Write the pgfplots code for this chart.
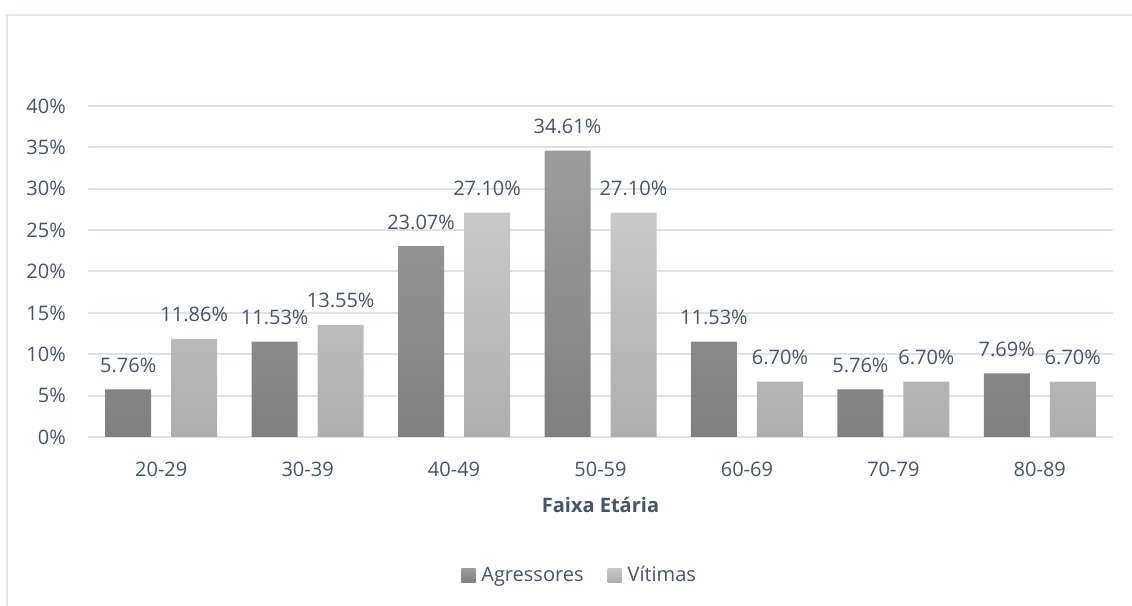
\documentclass[border=0pt]{standalone}
\usepackage{fontspec}
\setmainfont{Open Sans}
\usepackage{pgfplots}
\pgfplotsset{compat=1.18}
\definecolor{txt}{HTML}{44546A}
\definecolor{gridc}{HTML}{DDE2E8}
\definecolor{borderc}{HTML}{E3E7EC}
\definecolor{agtop}{HTML}{9C9C9C}
\definecolor{agbot}{HTML}{808080}
\definecolor{vitop}{HTML}{C9C9C9}
\definecolor{vibot}{HTML}{AEAEAE}
\begin{document}
\begin{tikzpicture}[font=\fontsize{15}{18}\selectfont]
\useasboundingbox (0,0) rectangle (849pt,454.5pt);
\draw[borderc, line width=1.5pt] (5.25pt,-20pt) rectangle (870pt,443.25pt);
\begin{axis}[
  at={(66pt,126.75pt)}, anchor=south west,
  scale only axis, width=768.75pt, height=248.25pt,
  ybar=15pt, bar width=34.5pt,
  xmin=-0.5, xmax=6.5, ymin=0, ymax=40,
  xtick={0,...,6},
  xticklabels={20-29,30-39,40-49,50-59,60-69,70-79,80-89},
  ytick={0,5,...,40},
  yticklabel={\pgfmathprintnumber{\tick}\%},
  /pgf/number format/assume math mode=true,
  axis line style={draw=none},
  major tick length=0pt,
  ymajorgrids, grid style={gridc, line width=1.5pt},
  tick label style={text=txt, font=\fontsize{15}{18}\selectfont},
  yticklabel style={anchor=east, inner sep=0pt, xshift=-16.5pt},
  xticklabel style={anchor=base, inner sep=0pt, yshift=-30pt},
  xlabel={\textbf{Faixa Etária}},
  xlabel style={at={(axis description cs:0.5,0)}, anchor=base, yshift=-57pt, inner sep=0pt, text=txt, font=\fontsize{15}{18}\selectfont},
  nodes near coords={\pgfmathprintnumber[fixed,fixed zerofill,precision=2]{\pgfplotspointmeta}\%},
  nodes near coords style={anchor=base, inner sep=0pt, yshift=12.75pt, text=txt, font=\fontsize{15}{18}\selectfont},
  legend columns=2,
  legend style={at={(axis description cs:0.48,-0.417)}, anchor=center, draw=none, fill=none,
    text=txt, font=\fontsize{15}{18}\selectfont,
    /tikz/every even column/.append style={column sep=16pt}},
  legend image code/.code={\path[#1, draw=none] (0pt,-5.25pt) rectangle (10.5pt,5.25pt);\path (13pt,0pt);},
]
\addplot[draw=none, top color=agtop, bottom color=agbot] coordinates {(0,5.76) (1,11.53) (2,23.07) (3,34.61) (4,11.53) (5,5.76) (6,7.69)};
\addplot[draw=none, top color=vitop, bottom color=vibot] coordinates {(0,11.86) (1,13.55) (2,27.10) (3,27.10) (4,6.70) (5,6.70) (6,6.70)};
\legend{Agressores, Vítimas}
\end{axis}
\end{tikzpicture}
\end{document}
